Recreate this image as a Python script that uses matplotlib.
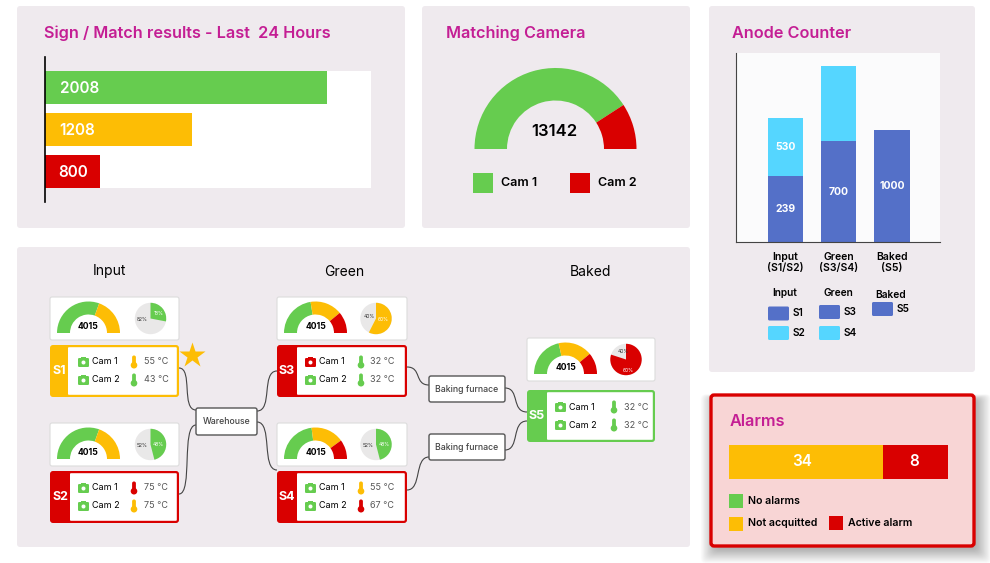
import matplotlib
matplotlib.use('Agg')
import matplotlib.pyplot as plt
from matplotlib.patches import FancyBboxPatch, Wedge, Rectangle, Circle, PathPatch
from matplotlib.path import Path

plt.rcParams['font.family'] = ['Inter', 'DejaVu Sans']

GREEN = '#66CC4F'
AMBER = '#FDBD05'
RED = '#D90000'
BLUE = '#5470C8'
CYAN = '#55D6FF'
TITLE = '#C41E94'
PANEL = '#EFEAEE'
STATUS = {'ok': GREEN, 'warn': AMBER, 'alarm': RED}

# sign / match bars: drawn length as % of the white track, plus the printed number
sign_lengths = [86.5, 45, 17]
sign_labels = ['2008', '1208', '800']
sign_status = ['ok', 'warn', 'alarm']

# matching camera gauge
camera_names = ['Cam 1', 'Cam 2']
camera_shares = [81.7, 18.3]
camera_total = '13142'

# anode counter, heights as read against the axis
anode_groups = ['Input\n(S1/S2)', 'Green\n(S3/S4)', 'Baked\n(S5)']
anode_lower = [66, 101, 112]
anode_upper = [58, 75, 0]
anode_lower_labels = ['239', '700', '1000']
anode_upper_labels = ['530', '', '']

# alarms bar
alarm_lengths = [154, 65]
alarm_labels = ['34', '8']
alarm_status = ['warn', 'alarm']

# stations
station_names = ['S1', 'S2', 'S3', 'S4', 'S5']
station_status = ['warn', 'alarm', 'alarm', 'alarm', 'ok']
cam1_status = ['ok', 'ok', 'alarm', 'ok', 'ok']
cam2_status = ['ok', 'ok', 'ok', 'ok', 'ok']
temp1 = [55, 75, 32, 55, 32]
temp2 = [43, 75, 32, 67, 32]
temp1_status = ['warn', 'alarm', 'ok', 'warn', 'ok']
temp2_status = ['ok', 'warn', 'ok', 'alarm', 'ok']
gauge_value = '4015'
gauge_green = [61, 61, 45, 46, 43]
gauge_amber = [39, 39, 33, 34, 35]
gauge_red = [0, 0, 22, 20, 22]
pie_shares = [28, 46, 57.5, 46, 80]
pie_status = ['ok', 'ok', 'warn', 'ok', 'alarm']
pie_labels = [('18%', '82%'), ('48%', '52%'), ('60%', '40%'), ('48%', '52%'), ('60%', '40%')]


fig = plt.figure(figsize=(9.9, 5.63), dpi=100, facecolor='white')
ax = fig.add_axes([0, 0, 1, 1])
ax.set_xlim(0, 990)
ax.set_ylim(563, 0)
ax.axis('off')


def px_axes(x0, y0, x1, y1):
    sub = fig.add_axes([x0 / 990, 1 - y1 / 563, (x1 - x0) / 990, (y1 - y0) / 563])
    return sub


def rbox(x0, y0, x1, y1, r=3, fc='white', ec='none', lw=0, z=2, alpha=None):
    p = FancyBboxPatch((x0 + r, y0 + r), x1 - x0 - 2 * r, y1 - y0 - 2 * r,
                       boxstyle=f'round,pad={r},rounding_size={r}',
                       fc=fc, ec=ec, lw=lw, zorder=z, alpha=alpha)
    ax.add_patch(p)
    return p


def label(x, y, s, size=7, color='black', weight='normal', ha='left', z=8):
    ax.text(x, y, s, fontsize=size, color=color, fontweight=weight, ha=ha, va='center', zorder=z)


def half_gauge(cx, cy, r_out, r_in, shares, colors):
    # y axis points down, so the top half runs from 180 to 360 degrees
    start = 180
    for share, col in zip(shares, colors):
        if share <= 0:
            continue
        end = start + 180 * share / sum(shares)
        ax.add_patch(Wedge((cx, cy), r_out, start, end, width=r_out - r_in, fc=col, ec='none', zorder=4))
        start = end


def small_pie(cx, cy, r, share, col):
    end = 270 + 360 * share / 100
    ax.add_patch(Circle((cx, cy), r, fc='#E9E8E8', ec='none', zorder=4))
    ax.add_patch(Wedge((cx, cy), r, 270, end, fc=col, ec='none', zorder=5))


def camera_icon(cx, cy, col):
    rbox(cx - 5.5, cy - 4, cx + 5.5, cy + 5, r=1.2, fc=col, z=6)
    ax.add_patch(Rectangle((cx - 2.5, cy - 5.5), 5, 2, fc=col, ec='none', zorder=6))
    ax.add_patch(Circle((cx, cy + 0.5), 2, fc='white', ec='none', zorder=7))


def thermo_icon(cx, cy, col):
    rbox(cx - 1.9, cy - 6.5, cx + 1.9, cy + 4, r=1.8, fc=col, z=6)
    ax.add_patch(Circle((cx, cy + 3.2), 3.3, fc=col, ec='none', zorder=6))


def connector(p0, c0, c1, p1):
    path = Path([p0, c0, c1, p1], [Path.MOVETO, Path.CURVE4, Path.CURVE4, Path.CURVE4])
    ax.add_patch(PathPatch(path, fc='none', ec='#444444', lw=0.8, zorder=3))


# panels
rbox(17, 6, 405, 228, fc=PANEL, z=1)
rbox(422, 6, 690, 228, fc=PANEL, z=1)
rbox(709, 6, 975, 372, fc=PANEL, z=1)
rbox(17, 247, 690, 547, fc=PANEL, z=1)

label(44, 33.5, 'Sign / Match results - Last  24 Hours', size=11.7, color=TITLE, weight='semibold')
label(446, 33.5, 'Matching Camera', size=11.7, color=TITLE, weight='semibold')
label(732, 33.5, 'Anode Counter', size=11.7, color=TITLE, weight='semibold')

# sign / match bars
ax_sign = px_axes(45, 71, 371, 188)
ax_sign.barh(range(3), sign_lengths, height=0.79, color=[STATUS[s] for s in sign_status])
ax_sign.set_xlim(0, 100)
ax_sign.set_ylim(2.39, -0.39)
ax_sign.set_xticks([])
ax_sign.set_yticks([])
for side in ax_sign.spines.values():
    side.set_visible(False)
ax_sign.axvline(0, ymin=-0.12, ymax=1.12, color='black', lw=1.2, clip_on=False)
for i, txt in enumerate(sign_labels):
    ax_sign.text(4.5 if i < 2 else 4, i + 0.02, txt, color='white', fontsize=11, fontweight='semibold', va='center')

# matching camera
half_gauge(555.5, 149, 81, 48.5, camera_shares, [GREEN, RED])
label(554, 132, camera_total, size=12, weight='semibold', ha='center')
for x_sw, x_txt, name, col in zip([473, 570], [501, 598], camera_names, [GREEN, RED]):
    ax.add_patch(Rectangle((x_sw, 173), 20, 20, fc=col, ec='none', zorder=3))
    label(x_txt, 183.5, name, size=9, weight='semibold')

# anode counter
ax_anode = px_axes(736, 53, 940, 242)
xs = list(range(3))
ax_anode.bar(xs, anode_lower, width=0.66, color=BLUE)
ax_anode.bar(xs, anode_upper, width=0.66, bottom=anode_lower, color=CYAN)
ax_anode.set_facecolor('#FBFBFC')
ax_anode.set_xlim(-0.93, 2.9)
ax_anode.set_ylim(0, 189)
ax_anode.set_yticks([])
ax_anode.set_xticks(xs)
ax_anode.set_xticklabels(anode_groups, fontsize=7.5, fontweight='semibold', linespacing=1.15)
ax_anode.tick_params(axis='x', length=0, pad=7)
ax_anode.spines['top'].set_visible(False)
ax_anode.spines['right'].set_visible(False)
ax_anode.spines['left'].set_color('#444444')
ax_anode.spines['bottom'].set_color('#444444')
for i in xs:
    ax_anode.text(i, anode_lower[i] / 2, anode_lower_labels[i], color='white', fontsize=7.5,
                  fontweight='bold', ha='center', va='center')
    if anode_upper_labels[i]:
        ax_anode.text(i, anode_lower[i] + anode_upper[i] / 2, anode_upper_labels[i], color='white',
                      fontsize=7.5, fontweight='bold', ha='center', va='center')

# anode legend
label(785, 293, 'Input', size=7.3, weight='semibold', ha='center')
label(838, 293, 'Green', size=7.3, weight='semibold', ha='center')
label(891, 294.5, 'Baked', size=7.3, weight='semibold', ha='center')
for x0, y0, col, txt in [(768, 306.5, BLUE, 'S1'), (768, 326, CYAN, 'S2'),
                         (819, 305, BLUE, 'S3'), (819, 326, CYAN, 'S4'),
                         (872, 302, BLUE, 'S5')]:
    rbox(x0, y0, x0 + 21, y0 + 14, r=1.5, fc=col, z=3)
    label(x0 + 25, y0 + 7, txt, size=7.3, weight='semibold')

# alarm box with a soft shadow
for k in range(20):
    rbox(716 - k * 0.8, 400 - k * 0.3, 976 + k * 0.8, 549 + k * 0.75,
         r=5, fc='black', z=1, alpha=0.014)
rbox(711, 395, 974, 546, r=3, fc='#F8D5D5', ec=RED, lw=2.4, z=2)
label(730, 421, 'Alarms', size=11.7, color=TITLE, weight='semibold')
ax_alarm = px_axes(729, 445, 948, 479)
ax_alarm.barh([0], alarm_lengths[0], height=1, color=STATUS[alarm_status[0]])
ax_alarm.barh([0], alarm_lengths[1], left=alarm_lengths[0], height=1, color=STATUS[alarm_status[1]])
ax_alarm.set_xlim(0, sum(alarm_lengths))
ax_alarm.set_ylim(-0.5, 0.5)
ax_alarm.axis('off')
ax_alarm.text(alarm_lengths[0] / 2 - 4, 0, alarm_labels[0], color='white', fontsize=11,
              fontweight='semibold', ha='center', va='center')
ax_alarm.text(alarm_lengths[0] + alarm_lengths[1] / 2 - 1, 0, alarm_labels[1], color='white', fontsize=11,
              fontweight='semibold', ha='center', va='center')
for x0, y0, col, txt in [(729, 494, GREEN, 'No alarms'), (729, 517, AMBER, 'Not acquitted'),
                         (829, 516, RED, 'Active alarm')]:
    ax.add_patch(Rectangle((x0, y0), 14, 14, fc=col, ec='none', zorder=3))
    label(x0 + 19, y0 + 6.5, txt, size=7.6, weight='semibold')

# process map
for x_c, txt in zip([109, 344, 590], ['Input', 'Green', 'Baked']):
    label(x_c, 271.5, txt, size=10, ha='center')

connector((179, 368), (193, 368), (181, 410), (196, 410))
connector((179, 494), (193, 494), (181, 425), (196, 425))
connector((257, 411), (273, 411), (261, 371), (277, 371))
connector((257, 422), (273, 422), (261, 470), (277, 470))
connector((407, 367), (422, 367), (414, 385), (429, 385))
connector((407, 490), (422, 490), (414, 457), (429, 457))
connector((505, 388), (520, 388), (511, 412), (527, 412))
connector((505, 450), (520, 450), (511, 421), (527, 421))

for x0, y0, x1, y1, txt in [(196, 408, 257, 435, 'Warehouse'), (429, 376, 505, 402, 'Baking furnace'),
                            (429, 434, 505, 460, 'Baking furnace')]:
    rbox(x0, y0, x1, y1, r=2, fc='white', ec='#555555', lw=1, z=5)
    label((x0 + x1) / 2, (y0 + y1) / 2 + 0.5, txt, size=6.3, color='#444444', weight='medium', ha='center')

card_left = [50, 50, 277, 277, 527]
card_right = [179, 179, 407, 407, 655]
gauge_top = [297, 423, 297, 423, 338]
card_top = [345, 471, 345, 471, 390]
band_w = [18, 20, 20, 20, 20]
thermo_dx = [84, 84, 84, 84, 87]
pie_dx = [100.5, 100.5, 99, 99, 99]
pie_text_dx = [((8, -5), (-8, 1)), ((8, 0), (-8, 1)), ((7, 1), (-7, -2)), ((8, 0), (-8, 1)), ((2, 11), (-3, -8))]

for i, name in enumerate(station_names):
    x0, x1, yg, yc = card_left[i], card_right[i], gauge_top[i], card_top[i]
    col = STATUS[station_status[i]]

    # gauge card
    rbox(x0, yg, x1, yg + 43, r=2, fc='white', ec='#DCDCDC', lw=0.8, z=2)
    half_gauge(x0 + 38.5, yg + 36, 31.5, 18.5, [gauge_green[i], gauge_amber[i], gauge_red[i]], [GREEN, AMBER, RED])
    label(x0 + 38.5, yg + 29.5, gauge_value, size=6.2, weight='bold', ha='center')
    px, py = x0 + pie_dx[i], yg + 21.5
    small_pie(px, py, 15.7, pie_shares[i], STATUS[pie_status[i]])
    (dx1, dy1), (dx2, dy2) = pie_text_dx[i]
    label(px + dx1, py + dy1, pie_labels[i][0], size=3.6, color='white', ha='center')
    label(px + dx2, py + dy2, pie_labels[i][1], size=3.6, color='#333333', ha='center')

    # station card
    rbox(x0, yc, x1, yc + 52, r=3, fc=col, z=2)
    rbox(x0 + band_w[i], yc + 2.2, x1 - 2.2, yc + 49.8, r=1, fc='white', z=3)
    label(x0 + band_w[i] / 2, yc + 26, name, size=9, color='white', weight='bold', ha='center')
    for row, (cam, cam_st, t, t_st) in enumerate([('Cam 1', cam1_status[i], temp1[i], temp1_status[i]),
                                                  ('Cam 2', cam2_status[i], temp2[i], temp2_status[i])]):
        y = yc + 17 + row * 18
        camera_icon(x0 + 33.5, y, STATUS[cam_st])
        label(x0 + 42, y, cam, size=6.5)
        thermo_icon(x0 + thermo_dx[i], y, STATUS[t_st])
        label(x0 + thermo_dx[i] + 9.5, y, f'{t} °C', size=6.5, color='#555555')

ax.plot([192], [355], marker='*', ms=19, color=AMBER, mec='none', zorder=6)

fig.savefig('out.png', dpi=100)
